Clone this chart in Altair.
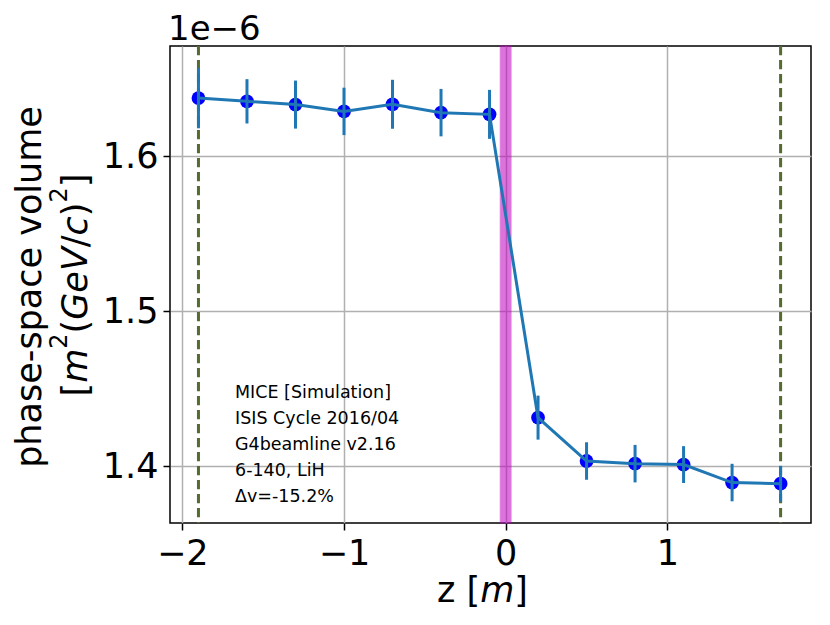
import altair as alt
import pandas as pd

# ---- data ----
z = [-1.9, -1.6, -1.3, -1.0, -0.7, -0.4, -0.1, 0.2, 0.5, 0.8, 1.1, 1.4, 1.7]
vol = [1.6376, 1.6355, 1.6334, 1.6290, 1.6336, 1.6282, 1.6271,
       1.4314, 1.4034, 1.4017, 1.4011, 1.3895, 1.3888]
err = [0.0195, 0.0143, 0.0155, 0.0153, 0.0158, 0.0153, 0.0158,
       0.0142, 0.0121, 0.0121, 0.0119, 0.0121, 0.0115]
vlines = [-1.9, 1.7]
absorber = [-0.0325, 0.0325]
xticks = [-2, -1, 0, 1]
yticks = [1.4, 1.5, 1.6]
notes = ["MICE [Simulation]", "ISIS Cycle 2016/04", "G4beamline v2.16",
         "6-140, LiH", "\u0394v=-15.2%"]

FONT = "DejaVu Sans"
FS = 35
SUP = 24
W, H = 641, 477

df = pd.DataFrame({"z": z, "v": vol,
                   "lo": [a - b for a, b in zip(vol, err)],
                   "hi": [a + b for a, b in zip(vol, err)]})
df_v = pd.DataFrame({"x": vlines})
df_b = pd.DataFrame({"x0": [absorber[0]], "x1": [absorber[1]]})

xs = alt.Scale(domain=[-2.076, 1.888], nice=False, zero=False)
ys = alt.Scale(domain=[1.3634, 1.6712], nice=False, zero=False)
xax = alt.Axis(values=xticks, format="d", title=None, grid=True,
               labelFlush=False, labelOverlap=False)
yax = alt.Axis(values=yticks, format=".1f", title=None, grid=True,
               labelFlush=False, labelOverlap=False)

band = alt.Chart(df_b).mark_rect(color="#c000c0", opacity=0.55,
                                 stroke="#c000c0", strokeWidth=1.5,
                                 strokeOpacity=0.75).encode(
    x=alt.X("x0:Q", scale=xs, axis=xax), x2="x1:Q")

vl = alt.Chart(df_v).mark_rule(color="#556b2f", strokeWidth=3,
                               strokeDash=[9.3, 4.7]).encode(
    x=alt.X("x:Q", scale=xs, axis=xax))

pts = alt.Chart(df).mark_point(filled=True, shape="circle", color="#0000ff",
                               opacity=1, size=190).encode(
    x=alt.X("z:Q", scale=xs, axis=xax),
    y=alt.Y("v:Q", scale=ys, axis=yax))

bars = alt.Chart(df).mark_rule(color="#1f77b4", strokeWidth=3).encode(
    x=alt.X("z:Q", scale=xs, axis=xax),
    y=alt.Y("lo:Q", scale=ys, axis=yax), y2="hi:Q")

line = alt.Chart(df).mark_line(color="#1f77b4", strokeWidth=3).encode(
    x=alt.X("z:Q", scale=xs, axis=xax),
    y=alt.Y("v:Q", scale=ys, axis=yax))

one = alt.Data(values=[{"a": 1}])


def txt(s, x, y, size=FS, style="normal", angle=0, align="left"):
    return alt.Chart(one).mark_text(
        text=s, font=FONT, fontSize=size, fontStyle=style, color="black",
        align=align, baseline="alphabetic", angle=angle).encode(
        x=alt.value(x), y=alt.value(y))


# advance widths (em) of DejaVu Sans / Oblique glyphs used in titles
adv = {"[": 0.390, "]": 0.390, "(": 0.390, ")": 0.390, "/": 0.337,
       "m": 0.974, "G": 0.775, "e": 0.615, "V": 0.684, "c": 0.550,
       "2": 0.636, "z": 0.525, " ": 0.318}


def width(s, size):
    return sum(adv[ch] for ch in s) * size


layers = []

# annotation block
layers.append(alt.Chart(one).mark_text(
    text=notes, font=FONT, fontSize=17.5, color="black", align="left",
    baseline="alphabetic", lineHeight=25.9).encode(
    x=alt.value(65), y=alt.value(352.3)))

# offset text
layers.append(txt("1e\u22126", -2, -6, 34))

# x title: z [m]
xpieces = [("z [", "normal", FS), ("m", "italic", FS), ("]", "normal", FS)]
cx = 267
for s, st, sz in xpieces:
    layers.append(txt(s, cx, 556, sz, st))
    cx += width(s, sz)

# y title line 1
layers.append(txt("phase-space volume", -129, 241, FS, "normal", 270, "center"))

# y title line 2: [m^2(GeV/c)^2]
ypieces = [("[", "normal", FS, 0), ("m", "italic", FS, 0), ("2", "normal", SUP, 20),
           ("(", "normal", FS, 0), ("GeV", "italic", FS, 0), ("/", "normal", FS, 0),
           ("c", "italic", FS, 0), (")", "normal", FS, 0), ("2", "normal", SUP, 20),
           ("]", "normal", FS, 0)]
total = sum(width(s, sz) for s, _, sz, _ in ypieces)
cy = 239 + total / 2
for s, st, sz, up in ypieces:
    layers.append(txt(s, -83 - up, cy, sz, st, 270))
    cy -= width(s, sz)

chart = alt.layer(band, vl, pts, bars, line, *layers).properties(
    width=W, height=H,
    autosize=alt.AutoSizeParams(type="none"),
    padding={"left": 162, "top": 38, "right": 10, "bottom": 90},
).configure_axis(
    labelFont=FONT, labelFontSize=FS, labelColor="black",
    tickColor="black", tickWidth=1.5, tickSize=7, labelPadding=6,
    gridColor="#b0b0b0", gridWidth=1.5, domain=False,
).configure_axisY(labelPadding=5).configure_view(
    stroke="black", strokeWidth=1.5)

chart.save("out.html", embed_options={"renderer": "svg", "actions": False})
